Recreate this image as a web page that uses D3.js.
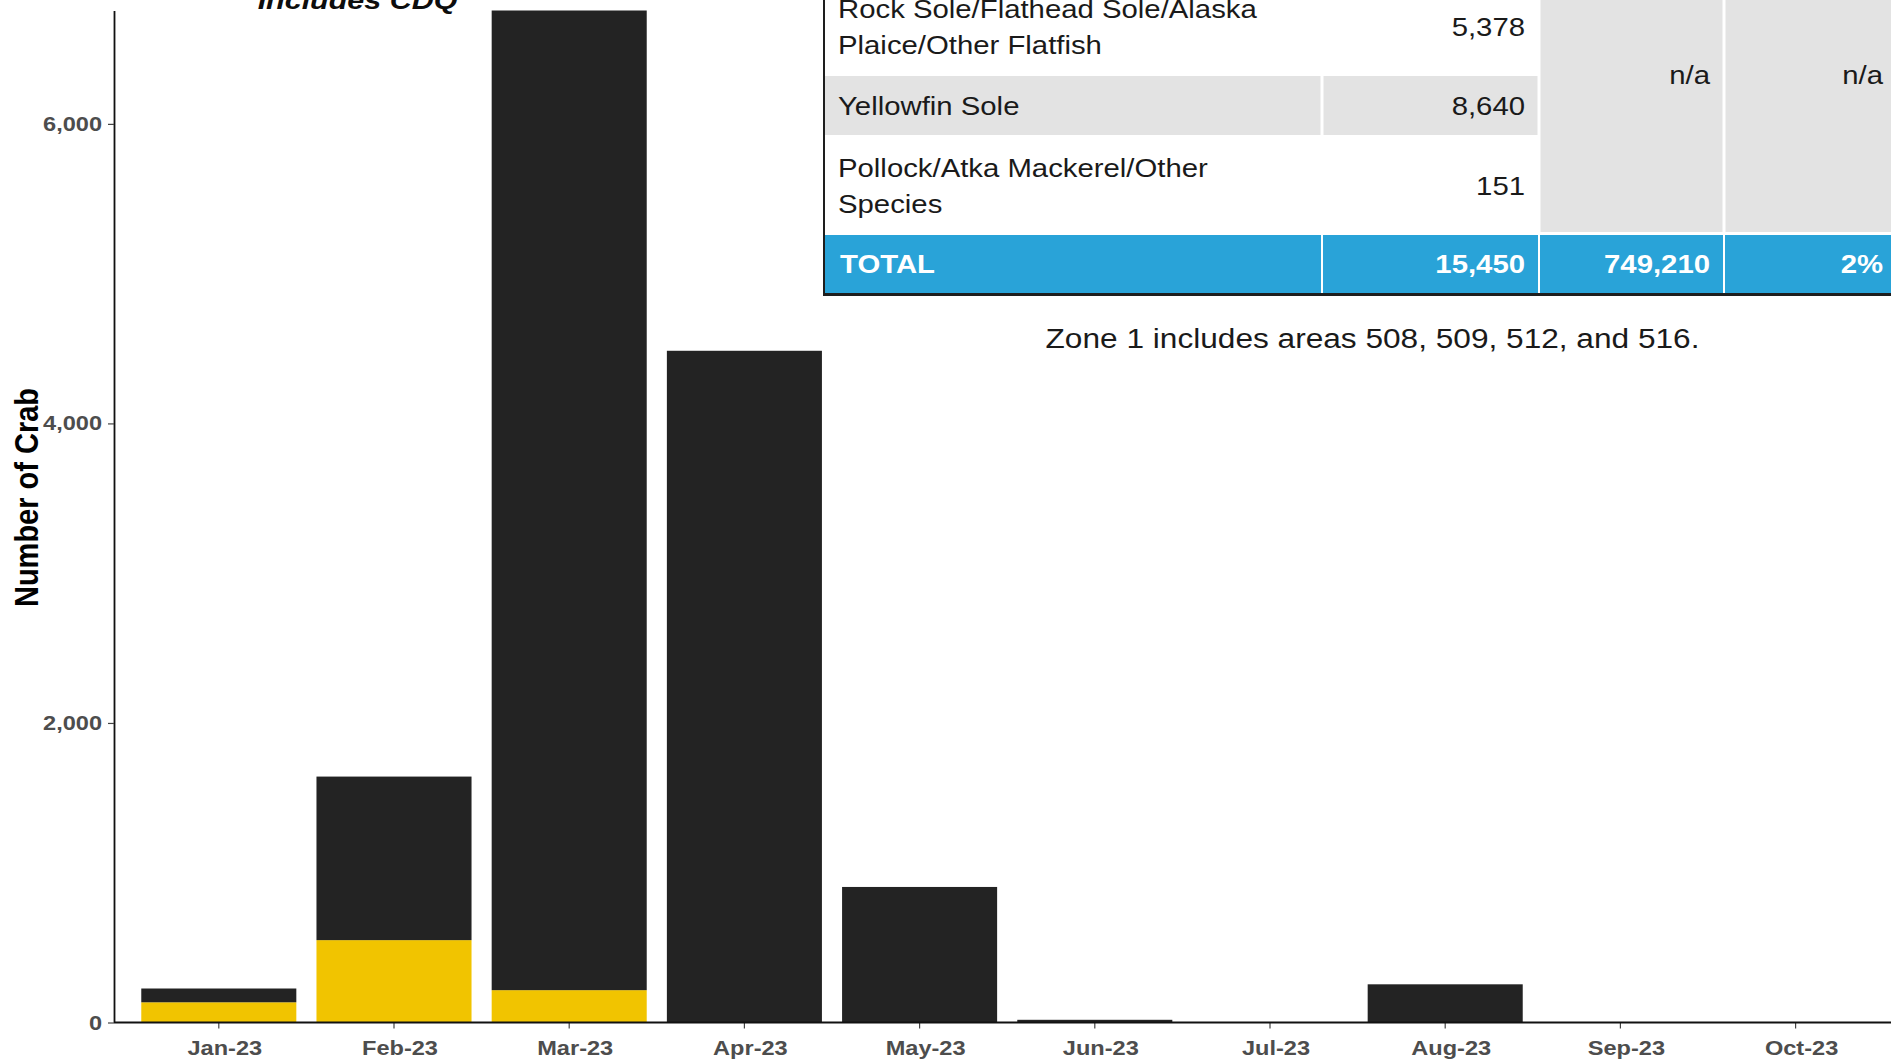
<!DOCTYPE html>
<html>
<head>
<meta charset="utf-8">
<script src="https://cdn.jsdelivr.net/npm/d3@7"></script>
<style>
  html, body { margin: 0; padding: 0; background: #fff; overflow: hidden; }
  svg { display: block; }
</style>
</head>
<body>
<svg id="chart" width="1891" height="1061"></svg>
<script>
// ---- chart data ----
const months = ["Jan-23", "Feb-23", "Mar-23", "Apr-23", "May-23", "Jun-23", "Jul-23", "Aug-23", "Sep-23", "Oct-23"];
const yellowCounts = [135, 550, 216, 0, 0, 0, 0, 0, 0, 0];
const darkCounts = [92, 1092, 6541, 4485, 905, 18, 0, 255, 0, 0];
const yTickValues = [0, 2000, 4000, 6000];
const chartTitle = "Includes CDQ";
const yAxisTitle = "Number of Crab";

// ---- inset table data ----
const speciesLines = [
  ["Rock Sole/Flathead Sole/Alaska", "Plaice/Other Flatfish"],
  ["Yellowfin Sole"],
  ["Pollock/Atka Mackerel/Other", "Species"]
];
const speciesCounts = ["5,378", "8,640", "151"];
const mergedCells = ["n/a", "n/a"];
const totalRow = ["TOTAL", "15,450", "749,210", "2%"];
const zoneNote = "Zone 1 includes areas 508, 509, 512, and 516.";

// ---- layout ----
const W = 1891, H = 1061;
const FONT = "'Liberation Sans', Arial, Helvetica, sans-serif";
const SX = 1.15;                 // horizontal text stretch
const axisX = 114;
const plotTop = 10.5, plotBottom = 1022.5;

const svg = d3.select("#chart");
svg.append("rect").attr("width", W).attr("height", H).attr("fill", "#fff");

function stretchedText(parent, x, y, str, o = {}) {
  return parent.append("text")
    .attr("transform", `translate(${x},${y}) scale(${SX},1)` + (o.rotate ? ` rotate(${o.rotate})` : ""))
    .attr("text-anchor", o.anchor || "start")
    .attr("font-family", FONT)
    .attr("font-size", o.size || 20)
    .attr("font-weight", o.weight || "normal")
    .attr("font-style", o.style || "normal")
    .attr("fill", o.fill || "#222")
    .text(str);
}

// ---- scales ----
const rows = months.map((m, i) => ({ month: m, yellow: yellowCounts[i], dark: darkCounts[i] }));
const layers = d3.stack().keys(["yellow", "dark"])(rows);
const yMax = d3.max(rows, d => d.yellow + d.dark);

const y = d3.scaleLinear().domain([0, yMax]).range([plotBottom, plotTop]);
const x = d3.scaleBand().domain(months)
  .range([131.2, 1883.2]).paddingInner(0.115).paddingOuter(0.0575);

const colors = { yellow: "#F1C400", dark: "#232323" };

// ---- bars ----
const plot = svg.append("g");
plot.selectAll("g.layer").data(layers).join("g")
  .attr("class", "layer")
  .attr("fill", d => colors[d.key])
  .selectAll("rect").data(d => d).join("rect")
  .attr("x", d => x(d.data.month))
  .attr("width", x.bandwidth())
  .attr("y", d => y(d[1]))
  .attr("height", d => Math.max(0, y(d[0]) - y(d[1])));

// ---- y axis ----
const yAxis = svg.append("g")
  .attr("transform", `translate(${axisX},0)`)
  .call(d3.axisLeft(y).tickValues(yTickValues).tickFormat(d3.format(",")).tickSize(6).tickSizeOuter(0));
yAxis.select(".domain").attr("stroke", "#111").attr("stroke-width", 1.8);
yAxis.selectAll(".tick line").attr("stroke", "#444").attr("stroke-width", 1.2);
yAxis.selectAll(".tick text")
  .attr("x", -12 / SX)
  .attr("transform", `scale(${SX},1)`)
  .attr("font-family", FONT).attr("font-size", 20.5).attr("font-weight", "bold")
  .attr("fill", "#4D4D4D");

// ---- x axis ----
const xAxis = svg.append("g")
  .attr("transform", `translate(0,${plotBottom})`)
  .call(d3.axisBottom(x).tickSize(6).tickSizeOuter(0));
xAxis.select(".domain").remove();
xAxis.append("line").attr("x1", axisX).attr("x2", W).attr("y1", 0).attr("y2", 0)
  .attr("stroke", "#111").attr("stroke-width", 1.8);
xAxis.selectAll(".tick line").attr("stroke", "#444").attr("stroke-width", 1.2);
xAxis.selectAll(".tick text")
  .attr("x", 6 / SX)
  .attr("y", 32.5).attr("dy", null)
  .attr("transform", `scale(${SX},1)`)
  .attr("font-family", FONT).attr("font-size", 20.5).attr("font-weight", "bold")
  .attr("fill", "#4D4D4D");

// ---- titles ----
stretchedText(svg, 38, 497.5, yAxisTitle, { rotate: -90, anchor: "middle", size: 29, weight: "bold", fill: "#000" });
stretchedText(svg, 357.5, 8.5, chartTitle, { anchor: "middle", size: 26.5, weight: "bold", style: "italic", fill: "#0d0d0d" });

// ---- inset table ----
const tbl = svg.append("g");
const colEdges = [824, 1322, 1539, 1724, W];
const rowEdges = [-22, 76, 135, 237];      // species rows (text centring)
const shadeBottom = 233;
const totalTop = 235, totalBottom = 293;
const grayFill = "#E3E3E3", blueFill = "#29A3D8";

tbl.append("rect").attr("x", colEdges[0]).attr("y", 0)
  .attr("width", W - colEdges[0]).attr("height", totalBottom).attr("fill", "#fff");

// merged gray cells in the last two columns
tbl.append("rect").attr("x", colEdges[2] + 1.5).attr("y", -10)
  .attr("width", W - colEdges[2]).attr("height", shadeBottom - 1 + 10).attr("fill", grayFill);
// shaded species row
tbl.append("rect").attr("x", colEdges[0] + 1).attr("y", rowEdges[1])
  .attr("width", colEdges[2] - colEdges[0] - 2.5).attr("height", rowEdges[2] - rowEdges[1]).attr("fill", grayFill);
// total row
tbl.append("rect").attr("x", colEdges[0] + 1).attr("y", totalTop)
  .attr("width", W - colEdges[0]).attr("height", totalBottom - totalTop).attr("fill", blueFill);

// white cell separators
[[colEdges[1], rowEdges[1], rowEdges[2]], [colEdges[3], -10, shadeBottom]].forEach(([cx, a, b]) => {
  tbl.append("line").attr("x1", cx).attr("x2", cx).attr("y1", a).attr("y2", b)
    .attr("stroke", "#fff").attr("stroke-width", 3);
});
colEdges.slice(1, 4).forEach(cx => {
  tbl.append("line").attr("x1", cx).attr("x2", cx).attr("y1", totalTop).attr("y2", totalBottom)
    .attr("stroke", "#fff").attr("stroke-width", 2);
});

// table borders
tbl.append("line").attr("x1", colEdges[0]).attr("x2", colEdges[0]).attr("y1", 0).attr("y2", totalBottom + 3)
  .attr("stroke", "#1e1e1e").attr("stroke-width", 2);
tbl.append("line").attr("x1", colEdges[0] - 1).attr("x2", W).attr("y1", totalBottom + 1.5).attr("y2", totalBottom + 1.5)
  .attr("stroke", "#1e1e1e").attr("stroke-width", 3);

// table text
const TS = 25.5, lineGap = 36, textLeft = 838;
speciesLines.forEach((lines, i) => {
  const mid = (rowEdges[i] + rowEdges[i + 1]) / 2;
  const first = mid - (lines.length - 1) * lineGap / 2 + 9;
  lines.forEach((ln, j) => stretchedText(tbl, textLeft, first + j * lineGap, ln, { size: TS, fill: "#1a1a1a" }));
  stretchedText(tbl, colEdges[2] - 14, mid + 9, speciesCounts[i], { size: TS, anchor: "end", fill: "#1a1a1a" });
});
mergedCells.forEach((t, i) => {
  stretchedText(tbl, colEdges[i + 3] - 14 + (i === 1 ? 6 : 0), 84, t, { size: TS, anchor: "end", fill: "#1a1a1a" });
});
const totalBase = (totalTop + totalBottom) / 2 + 9;
stretchedText(tbl, 840, totalBase, totalRow[0], { size: TS, weight: "bold", fill: "#fff" });
totalRow.slice(1).forEach((t, i) => {
  stretchedText(tbl, colEdges[i + 2] - 14 + (i === 2 ? 6 : 0), totalBase, t, { size: TS, weight: "bold", fill: "#fff", anchor: "end" });
});

stretchedText(svg, 1372.5, 348, zoneNote, { size: 27.5, anchor: "middle", fill: "#1a1a1a" });
</script>
</body>
</html>
